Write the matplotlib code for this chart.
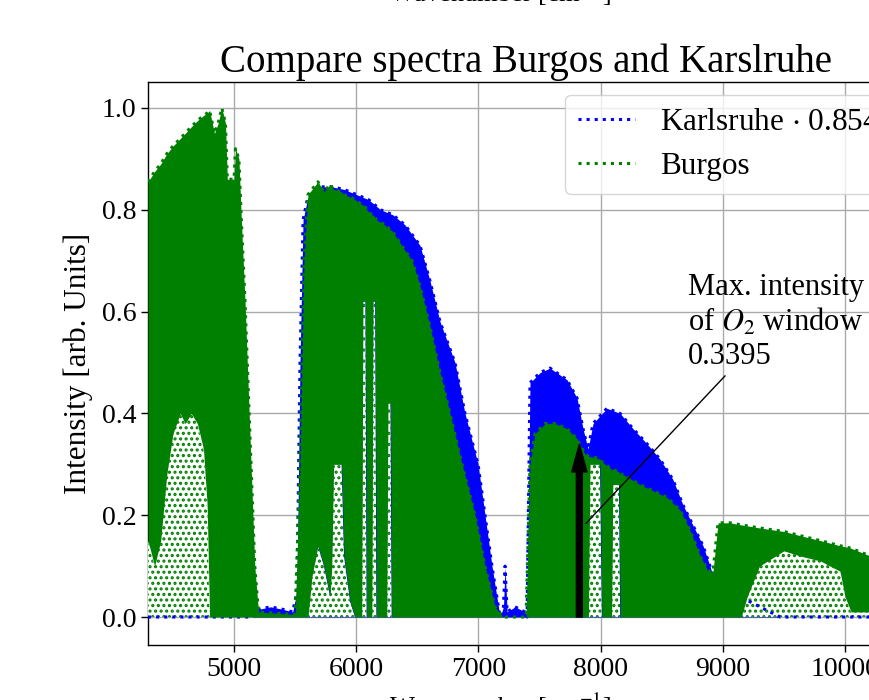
import matplotlib
matplotlib.use("Agg")
import matplotlib.pyplot as plt

plt.rcParams['font.family'] = ['Liberation Serif', 'DejaVu Serif']
plt.rcParams['mathtext.fontset'] = 'stix'
plt.rcParams['hatch.linewidth'] = 1.5

# ---- data (wavenumber in cm^-1, intensity arb. units) ----
karl_wn = [4296, 5150, 5200, 5300, 5400, 5480, 5515, 5540, 5565, 5600, 5650, 5700, 5800,
           5900, 6000, 6100, 6200, 6300, 6400, 6522, 6604, 6686, 6808, 6890, 6997, 7054,
           7111, 7177, 7205, 7218, 7235, 7300, 7380, 7398, 7422, 7504, 7586, 7725, 7807,
           7856, 7897, 7938, 8052, 8159, 8265, 8380, 8486, 8592, 8674, 8756, 8838, 8895,
           8920, 9059, 9222, 9386, 9468, 10491]
karl_int = [0.0, 0.0, 0.015, 0.02, 0.015, 0.01, 0.05, 0.50, 0.78, 0.82, 0.84, 0.845, 0.845,
            0.84, 0.83, 0.82, 0.80, 0.79, 0.77, 0.73, 0.66, 0.58, 0.50, 0.40, 0.30, 0.20,
            0.10, 0.0, 0.02, 0.10, 0.01, 0.02, 0.01, 0.0, 0.46, 0.48, 0.489, 0.466, 0.43,
            0.37, 0.33, 0.38, 0.41, 0.40, 0.37, 0.34, 0.31, 0.27, 0.22, 0.18, 0.14, 0.10,
            0.08, 0.05, 0.03, 0.01, 0.0, 0.0]
karl_scale = "0.8543"

burg_wn = [4296, 4350, 4400, 4450, 4500, 4560, 4600, 4650, 4700, 4750, 4780, 4800, 4840,
           4870, 4900, 4930, 4945, 5000, 5012, 5040, 5060, 5090, 5130, 5170, 5200, 5500,
           5540, 5573, 5605, 5638, 5687, 5736, 5786, 5800, 5815, 5880, 5900, 5950, 5990,
           6045, 6055, 6075, 6085, 6128, 6138, 6155, 6165, 6236, 6250, 6260, 6280, 6290,
           6317, 6399, 6457, 6522, 6604, 6686, 6767, 6866, 6972, 7054, 7136, 7200, 7390,
           7422, 7463, 7545, 7627, 7725, 7807, 7872, 7900, 7913, 7960, 7995, 8010, 8090,
           8100, 8150, 8160, 8183, 8322, 8543, 8650, 8732, 8814, 8879, 8920, 8961, 9059,
           9150, 9200, 9300, 9500, 9631, 9800, 9959, 10000, 10050, 10205, 10491]
burg_top = [0.855, 0.875, 0.89, 0.91, 0.925, 0.94, 0.95, 0.963, 0.975, 0.985, 0.99, 0.995,
            0.95, 0.97, 1.0, 0.97, 0.86, 0.86, 0.92, 0.90, 0.78, 0.62, 0.36, 0.10, 0.01,
            0.005, 0.30, 0.70, 0.83, 0.84, 0.855, 0.835, 0.85, 0.845, 0.84, 0.835, 0.83,
            0.825, 0.82, 0.81, 0.81, 0.805, 0.80, 0.79, 0.79, 0.785, 0.78, 0.77, 0.765,
            0.765, 0.76, 0.76, 0.75, 0.72, 0.70, 0.65, 0.57, 0.48, 0.40, 0.30, 0.20, 0.10,
            0.02, 0.0, 0.0, 0.30, 0.36, 0.38, 0.38, 0.37, 0.35, 0.32, 0.316, 0.315, 0.313,
            0.31, 0.305, 0.29, 0.29, 0.285, 0.28, 0.28, 0.26, 0.235, 0.21, 0.17, 0.12, 0.09,
            0.09, 0.185, 0.185, 0.181, 0.179, 0.175, 0.168, 0.16, 0.15, 0.14, 0.138, 0.135,
            0.12, 0.10]
burg_low = [0.15, 0.10, 0.15, 0.28, 0.36, 0.40, 0.38, 0.40, 0.38, 0.33, 0.22, 0.0, 0.0,
            0.0, 0.0, 0.0, 0.0, 0.0, 0.0, 0.0, 0.0, 0.0, 0.0, 0.0, 0.0, 0.0,
            0.0, 0.0, 0.0, 0.08, 0.14, 0.10, 0.04, 0.10, 0.30, 0.30, 0.12, 0.03, 0.0,
            0.0, 0.62, 0.62, 0.0, 0.0, 0.62, 0.62, 0.0, 0.0, 0.0,
            0.42, 0.42, 0.0, 0.0, 0.0, 0.0, 0.0, 0.0, 0.0, 0.0, 0.0, 0.0, 0.0,
            0.0, 0.0, 0.0, 0.0, 0.0, 0.0, 0.0, 0.0, 0.0, 0.0, 0.0, 0.30, 0.30,
            0.30, 0.0, 0.0, 0.26, 0.26, 0.0, 0.0, 0.0, 0.0, 0.0, 0.0, 0.0, 0.0,
            0.0, 0.0, 0.0, 0.0, 0.04, 0.10, 0.13, 0.12, 0.11, 0.09, 0.04, 0.01,
            0.01, 0.01]

o2_peak_wn = 7826
o2_peak_val = 0.3395
annot_point = (7865, 0.18)
annot_text_pos = (8715, 0.58)

x_ticks = [5000, 6000, 7000, 8000, 9000, 10000]
y_ticks = [0.0, 0.2, 0.4, 0.6, 0.8, 1.0]

BLUE = '#0000ff'
GREEN = '#008000'

fig = plt.figure(figsize=(8.7, 7), dpi=100)
ax = fig.add_axes([148 / 870, 55 / 700, (905 - 148) / 870, (645 - 82) / 700])

# Karlsruhe (scaled)
ax.fill_between(karl_wn, 0, karl_int, color=BLUE, lw=0, zorder=2)
# Burgos: sparse (dotted) part below the lower envelope
ax.fill_between(burg_wn, 0, burg_low, facecolor='white', edgecolor=GREEN, hatch='...',
                lw=0, zorder=3)
ax.plot(karl_wn, karl_int, ls=':', lw=2.2, color=BLUE, zorder=4,
        label=r'Karlsruhe $\cdot$ ' + karl_scale)
ax.fill_between(burg_wn, burg_low, burg_top, color=GREEN, lw=0, zorder=5)
ax.plot(burg_wn, burg_top, ls=':', lw=2.2, color=GREEN, zorder=6, label='Burgos')

# O2 window arrow and annotation
ax.annotate('', xy=(o2_peak_wn, o2_peak_val), xytext=(o2_peak_wn, 0),
            arrowprops=dict(facecolor='black', edgecolor='black', width=4.3,
                            headwidth=11, headlength=20, shrink=0), zorder=8)
ax.annotate('Max. intensity\nof $O_2$ window\n' + f'{o2_peak_val:.4f}',
            xy=annot_point, xytext=annot_text_pos, ha='left', va='center',
            fontsize=22, linespacing=1.2,
            arrowprops=dict(arrowstyle='-', color='black', lw=1.0), zorder=8)

ax.set_xlim(4296, 10491)
ax.set_ylim(-0.055, 1.051)
ax.set_xticks(x_ticks)
ax.set_yticks(y_ticks)
ax.set_yticklabels([f'{v:.1f}' for v in y_ticks])
ax.tick_params(labelsize=20, length=5, width=1)
ax.grid(True, color='#aaaaaa', lw=1.0)
ax.set_axisbelow(True)
for s in ax.spines.values():
    s.set_linewidth(1.0)

ax.set_title('Compare spectra Burgos and Karslruhe', fontsize=28, pad=7)
ax.set_ylabel('Intensity [arb. Units]', fontsize=22.5, labelpad=6)
ax.set_xlabel(r'Wavenumber [cm$^{-1}$]', fontsize=19, labelpad=6)
ax.xaxis.set_label_coords((500 - 148) / 757, -0.081)
ax.xaxis.label.set_va('top')
fig.text(500 / 870, 1 - 8 / 700, r'Wavenumber [cm$^{-1}$]', fontsize=19,
         ha='center', va='bottom')

ax.legend(loc='upper left', bbox_to_anchor=(565 / 870, 1 - 95 / 700),
          bbox_transform=fig.transFigure, borderaxespad=0,
          fontsize=22.5, handlelength=1.85, handletextpad=0.8,
          framealpha=0.8, edgecolor='0.8')

fig.savefig('out.png', dpi=100)
